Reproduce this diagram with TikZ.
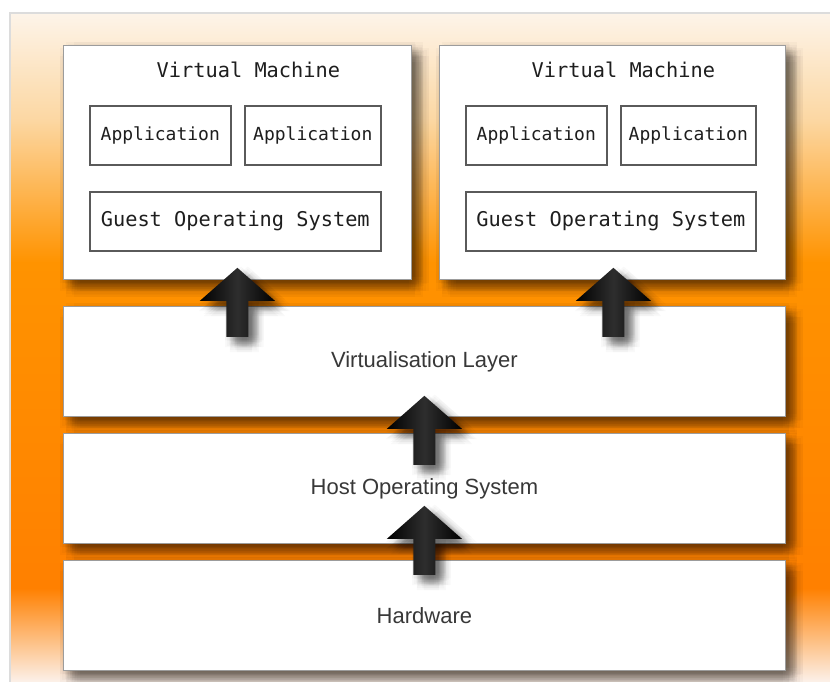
\documentclass[tikz,border=0pt]{standalone}
\usepackage{fontspec}
\setmainfont{Liberation Sans}
\newfontfamily\monofont{DejaVu Sans Mono}
\usetikzlibrary{calc}

\definecolor{panelTop}{HTML}{FDF4E9}
\definecolor{panelPeach}{HTML}{FCD7A2}
\definecolor{panelOrange}{HTML}{FF9300}
\definecolor{panelDeep}{HTML}{FF8000}
\definecolor{panelBottom}{HTML}{FCF1EA}
\definecolor{labelGray}{HTML}{383838}
\definecolor{monoInk}{HTML}{1E1E1E}
\definecolor{boxEdge}{HTML}{9C9C9C}
\definecolor{innerEdge}{HTML}{5A5A5A}
\definecolor{frameGray}{HTML}{DCDCDC}

\pgfdeclarelayer{backdrop}
\pgfdeclarelayer{shadows}
\pgfsetlayers{backdrop,shadows,main}

% soft shadow: many faint copies of a path, spread over a disc
% #1,#2 offset, #3 blur radius, #4 path
\newcommand\castshadow[4]{%
  \fill[black, opacity=0.028, transform canvas={shift={(#1pt,#2pt)}}] #4;
  \foreach \ang in {0,45,...,315}{%
    \foreach \rad in {0.25,0.5,0.75,1}{%
      \pgfmathsetmacro\sx{#1+\rad*#3*cos(\ang+22.5*\rad)}%
      \pgfmathsetmacro\sy{#2+\rad*#3*sin(\ang+22.5*\rad)}%
      \fill[black, opacity=0.022, transform canvas={shift={(\sx pt,\sy pt)}}] #4;
    }%
  }%
}

\tikzset{
  layerbox/.style={draw=boxEdge, line width=0.8pt, fill=white, inner sep=0pt,
    anchor=north west},
  layertext/.style={font=\fontsize{22}{26}\selectfont, text=labelGray},
  innerbox/.style={draw=innerEdge, line width=1.6pt, fill=white, inner sep=0pt,
    anchor=north west, text=monoInk},
  apptext/.style={font=\monofont\fontsize{18}{22}\selectfont},
  ostext/.style={font=\monofont\fontsize{20.3}{24}\selectfont},
  vmtitle/.style={font=\monofont\fontsize{20.3}{24}\selectfont, text=monoInk, inner sep=0pt},
  arrowbody/.style={left color=black, right color=black, middle color=black!82},
  pics/uparrow/.style={code={
    \castshadow{7}{-7}{9}{(0,0) -- (37.5,-33) -- (11,-33) -- (11,-69) -- (-11,-69)
      -- (-11,-33) -- (-37.5,-33) -- cycle}
    \path[arrowbody] (0,0) -- (37.5,-33) -- (11,-33) -- (11,-69) -- (-11,-69)
      -- (-11,-33) -- (-37.5,-33) -- cycle;
  }}
}

\begin{document}
\begin{tikzpicture}[x=1pt,y=1pt]
\useasboundingbox (0,0) rectangle (830,-682);

% orange backdrop, light at the top and bottom
\begin{pgfonlayer}{backdrop}
\fill[white] (0,0) rectangle (830,-682);
\shade[top color=panelTop, bottom color=panelPeach] (10,-13) rectangle (830,-120.5);
\shade[top color=panelPeach, bottom color=panelOrange] (10,-120) rectangle (830,-262.5);
\shade[top color=panelOrange, bottom color=panelDeep] (10,-262) rectangle (830,-588.5);
\shade[top color=panelDeep, bottom color=panelBottom] (10,-588) rectangle (830,-682);
\draw[frameGray, line width=2pt] (10,-684) -- (10,-13) -- (832,-13);
\end{pgfonlayer}

% the two virtual machines
\node[layerbox, minimum width=348pt, minimum height=234pt] (vm1) at (63,-45) {};
\node[layerbox, minimum width=346pt, minimum height=234pt] (vm2) at (439,-45) {};

% the stacked layers
\node[layerbox, layertext, minimum width=722pt, minimum height=110pt] (virt) at (63,-306) {Virtualisation Layer};
\node[layerbox, layertext, minimum width=722pt, minimum height=110pt] (host) at (63,-433) {Host Operating System};
\node[layerbox, layertext, minimum width=722pt, minimum height=110pt] (hw) at (63,-560) {Hardware};

% shadows beneath the boxes
\begin{pgfonlayer}{shadows}
\foreach \b in {vm1,vm2,virt,host,hw}{
  \castshadow{7}{-7}{11}{(\b.north west) rectangle (\b.south east)}
}
\end{pgfonlayer}

% contents of the first virtual machine
\node[vmtitle] (vm1t) at ($(vm1.north)+(11,-25)$) {Virtual Machine};
\node[innerbox, apptext, minimum width=141pt, minimum height=59pt] (app11) at (89,-105) {Application};
\node[innerbox, apptext, minimum width=136pt, minimum height=59pt] (app12) at (244,-105) {Application};
\node[innerbox, ostext, minimum width=291pt, minimum height=59pt] (os1) at (89,-191) {Guest Operating System};

% contents of the second virtual machine
\node[vmtitle] (vm2t) at ($(vm2.north)+(11,-25)$) {Virtual Machine};
\node[innerbox, apptext, minimum width=141pt, minimum height=59pt] (app21) at (465,-105) {Application};
\node[innerbox, apptext, minimum width=135pt, minimum height=59pt] (app22) at (620,-105) {Application};
\node[innerbox, ostext, minimum width=290pt, minimum height=59pt] (os2) at (465,-191) {Guest Operating System};

% block arrows pointing upwards through the stack
\pic at ($(vm1.south)+(0,12)$) {uparrow};
\pic at ($(vm2.south)+(1,12)$) {uparrow};
\pic at ($(virt.south)+(0,21)$) {uparrow};
\pic at ($(host.south)+(0,38)$) {uparrow};
\end{tikzpicture}
\end{document}
